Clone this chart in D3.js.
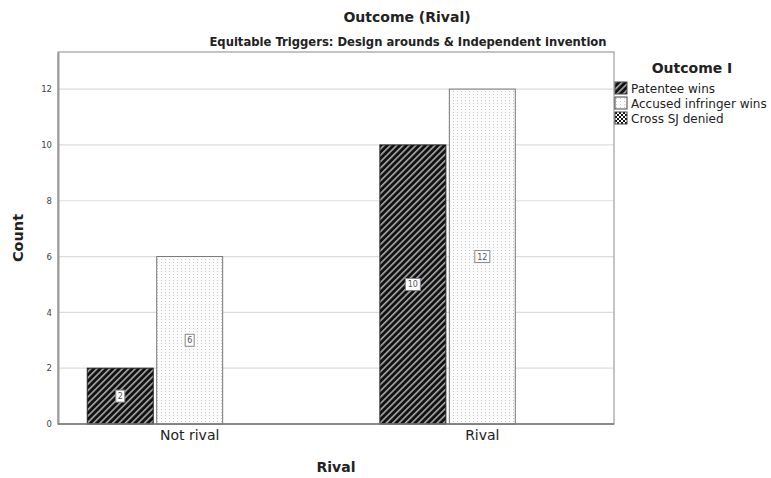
<!DOCTYPE html>
<html><head><meta charset="utf-8">
<script src="https://cdn.jsdelivr.net/npm/d3@7"></script>
<style>body{margin:0;background:#fff;} text{font-family:"DejaVu Sans",sans-serif;}</style>
</head><body>
<svg id="chart" width="771" height="478"></svg>
<script>
const categories = ["Not rival", "Rival"];
const seriesNames = ["Patentee wins", "Accused infringer wins", "Cross SJ denied"];
const patenteeWins = [2, 10];
const accusedWins = [6, 12];
const crossSJDenied = [0, 0];
const yTicks = [0, 2, 4, 6, 8, 10, 12];
const titleText = "Outcome (Rival)";
const subtitleText = "Equitable Triggers: Design arounds & Independent invention";
const legendTitle = "Outcome I";
const xTitle = "Rival";
const yTitle = "Count";

const series = [patenteeWins, accusedWins, crossSJDenied];
const data = [];
categories.forEach((c, i) => series.forEach((s, j) => data.push({cat: c, ser: seriesNames[j], si: j, v: s[i]})));

const svg = d3.select("#chart");
const L = 58, R = 614, T = 52, B = 424;

const defs = svg.append("defs");
const p1 = defs.append("pattern").attr("id", "pat0").attr("patternUnits", "userSpaceOnUse")
  .attr("width", 4.5).attr("height", 4.5).attr("patternTransform", "rotate(45)");
p1.append("rect").attr("width", 4.5).attr("height", 4.5).attr("fill", "#111");
p1.append("rect").attr("x", 0).attr("width", 1.6).attr("height", 4.5).attr("fill", "#a8a8a8");
const p2 = defs.append("pattern").attr("id", "pat1").attr("patternUnits", "userSpaceOnUse")
  .attr("width", 4).attr("height", 3);
p2.append("rect").attr("width", 4).attr("height", 3).attr("fill", "#fbfbfb");
p2.append("rect").attr("x", 1).attr("y", 1).attr("width", 1).attr("height", 1).attr("fill", "#c8c8c8");
const p3 = defs.append("pattern").attr("id", "pat2").attr("patternUnits", "userSpaceOnUse")
  .attr("width", 4).attr("height", 4);
p3.append("rect").attr("width", 4).attr("height", 4).attr("fill", "#fff");
p3.append("rect").attr("width", 2).attr("height", 2).attr("fill", "#111");
p3.append("rect").attr("x", 2).attr("y", 2).attr("width", 2).attr("height", 2).attr("fill", "#111");

const x0 = d3.scaleBand().domain(categories).range([L, R]).paddingInner(0.3).paddingOuter(0.1);
const x1 = d3.scaleBand().domain(seriesNames).range([0, x0.bandwidth()]).paddingInner(0.05);
const y = d3.scaleLinear().domain([0, 13.33]).range([B, T]);

svg.append("g").selectAll("line").data(yTicks.filter(d => d > 0)).join("line")
  .attr("x1", L).attr("x2", R).attr("y1", d => y(d)).attr("y2", d => y(d))
  .attr("stroke", "#dcdcdc").attr("stroke-width", 1.2);

svg.append("rect").attr("x", L).attr("y", T).attr("width", R - L).attr("height", B - T)
  .attr("fill", "none").attr("stroke", "#b0b0b0").attr("stroke-width", 1.5);

const yAxis = svg.append("g").attr("transform", `translate(${L},0)`)
  .call(d3.axisLeft(y).tickValues(yTicks).tickSize(0).tickPadding(6));
yAxis.select(".domain").attr("stroke", "#9a9a9a").attr("stroke-width", 2);
yAxis.selectAll("text").attr("font-size", 8.5).attr("fill", "#444");

const bars = svg.append("g").selectAll("g").data(data.filter(d => d.v > 0)).join("g");
bars.append("rect")
  .attr("x", d => x0(d.cat) + x1(d.ser)).attr("width", x1.bandwidth())
  .attr("y", d => y(d.v)).attr("height", d => y(0) - y(d.v))
  .attr("fill", d => `url(#pat${d.si})`)
  .attr("stroke", d => d.si === 0 ? "#222" : "#777").attr("stroke-width", 1);

bars.each(function(d) {
  const g = d3.select(this);
  const cx = x0(d.cat) + x1(d.ser) + x1.bandwidth() / 2;
  const cy = y(d.v / 2);
  const w = String(d.v).length > 1 ? 15 : 9;
  g.append("rect").attr("x", cx - w / 2).attr("y", cy - 6).attr("width", w).attr("height", 12)
    .attr("fill", "#fff").attr("stroke", "#888").attr("stroke-width", 1);
  g.append("text").attr("x", cx).attr("y", cy + 3).attr("text-anchor", "middle")
    .attr("font-size", 8).attr("fill", "#555").text(d.v);
});

svg.append("line").attr("x1", L).attr("x2", R).attr("y1", B).attr("y2", B)
  .attr("stroke", "#777").attr("stroke-width", 1.5);

const xAxis = svg.append("g").attr("transform", `translate(0,${B})`)
  .call(d3.axisBottom(x0).tickSize(0).tickPadding(6));
xAxis.select(".domain").remove();
xAxis.selectAll("text").attr("font-size", 14).attr("fill", "#222");

svg.append("text").attr("x", 407).attr("y", 22).attr("text-anchor", "middle")
  .attr("font-size", 14).attr("font-weight", "bold").attr("fill", "#222").text(titleText);
svg.append("text").attr("x", 408).attr("y", 46).attr("text-anchor", "middle")
  .attr("font-size", 11.6).attr("font-weight", "bold").attr("fill", "#222").text(subtitleText);
svg.append("text").attr("x", 336).attr("y", 472).attr("text-anchor", "middle")
  .attr("font-size", 14).attr("font-weight", "bold").attr("fill", "#222").text(xTitle);
svg.append("text").attr("transform", `translate(23,${(T + B) / 2}) rotate(-90)`).attr("text-anchor", "middle")
  .attr("font-size", 14.5).attr("font-weight", "bold").attr("fill", "#222").text(yTitle);

svg.append("text").attr("x", 692).attr("y", 73).attr("text-anchor", "middle")
  .attr("font-size", 14).attr("font-weight", "bold").attr("fill", "#222").text(legendTitle);
const leg = svg.append("g").selectAll("g").data(seriesNames).join("g")
  .attr("transform", (d, i) => `translate(615,${82 + i * 15})`);
leg.append("rect").attr("width", 12).attr("height", 12)
  .attr("fill", (d, i) => `url(#pat${i})`).attr("stroke", "#444").attr("stroke-width", 1);
leg.append("text").attr("x", 16).attr("y", 10.5).attr("font-size", 12).attr("fill", "#222").text(d => d);
</script>
</body></html>
